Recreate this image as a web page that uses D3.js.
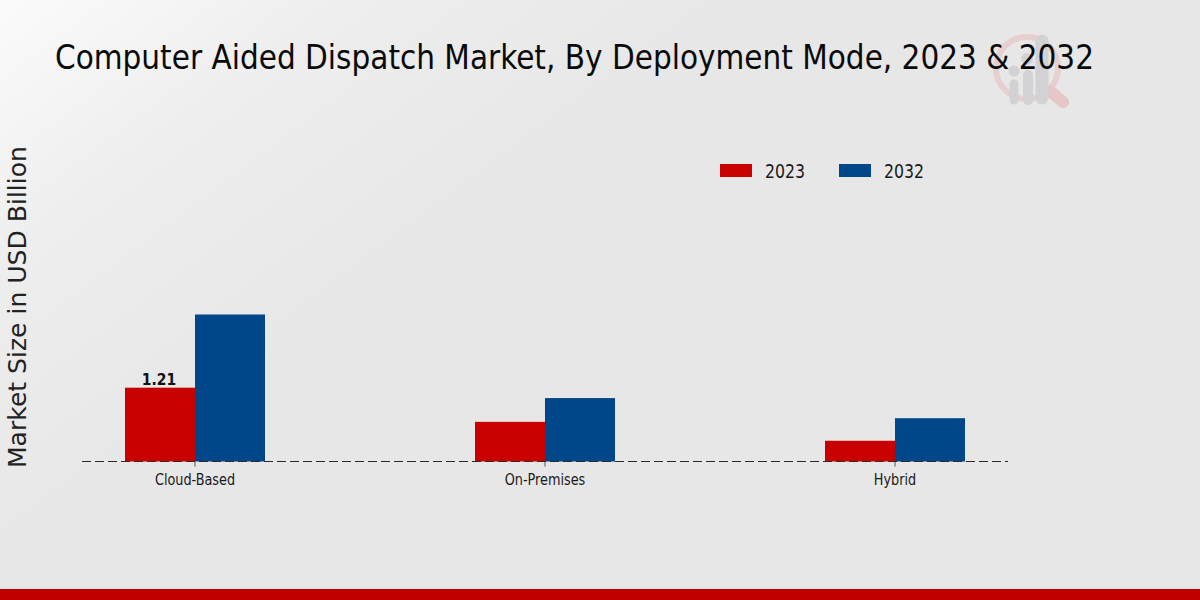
<!DOCTYPE html>
<html><head><meta charset="utf-8">
<script src="https://cdn.jsdelivr.net/npm/d3@7"></script>
<style>html,body{margin:0;padding:0;background:#e8e8e8;overflow:hidden}svg{display:block}</style>
</head><body><svg id="c" width="1200" height="600"></svg>
<script>
const categories = ["Cloud-Based","On-Premises","Hybrid"];
const seriesNames = ["2023","2032"];
const values2023 = [1.21,0.65,0.34];
const values2032 = [2.41,1.04,0.71];
const valueLabels2023 = ["1.21",null,null];
const seriesColors = ["#c80000","#00478a"];
const titleText = "Computer Aided Dispatch Market, By Deployment Mode, 2023 & 2032";
const yAxisTitle = "Market Size in USD Billion";

const svg = d3.select("#c");
const defs = svg.append("defs");
const bg = defs.append("linearGradient").attr("id","bg").attr("gradientUnits","userSpaceOnUse")
  .attr("x1",0).attr("y1",0).attr("x2",420).attr("y2",560);
bg.append("stop").attr("offset","0").attr("stop-color","#fbfbfb");
bg.append("stop").attr("offset","0.3").attr("stop-color","#eeeeee");
bg.append("stop").attr("offset","0.65").attr("stop-color","#e7e7e7");
bg.append("stop").attr("offset","1").attr("stop-color","#e7e7e7");
svg.append("rect").attr("width",1200).attr("height",600).attr("fill","url(#bg)");
defs.append("filter").attr("id","soft").append("feGaussianBlur").attr("stdDeviation",0.6);

// watermark
const wm = svg.append("g").attr("filter","url(#soft)");
wm.append("circle").attr("cx",1027).attr("cy",68).attr("r",31).attr("fill","none").attr("stroke","#e6cfcf").attr("stroke-width",6);
wm.append("line").attr("x1",1050).attr("y1",91).attr("x2",1063).attr("y2",102).attr("stroke","#e6c6c6").attr("stroke-width",12).attr("stroke-linecap","round");
const wmBars=[[1014,84,100,9],[1028,75,100,10],[1042,41,98,13]];
wmBars.forEach(b=>wm.append("line").attr("x1",b[0]).attr("x2",b[0]).attr("y1",b[1]).attr("y2",b[2]).attr("stroke","#d2d2d5").attr("stroke-width",b[3]).attr("stroke-linecap","round"));
wm.append("circle").attr("cx",1014).attr("cy",71).attr("r",5.5).attr("fill","#d2d2d5");
wm.append("circle").attr("cx",1027).attr("cy",59).attr("r",6).attr("fill","#d2d2d5");

// chart
const x = d3.scaleBand().domain(categories).range([20,1070]).padding(0);
const y = d3.scaleLinear().domain([0,2.41]).range([461.5,314.5]);
const barW = 70;
const g = svg.append("g");
const rows = [values2023,values2032];
rows.forEach((vals,si)=>{
  g.selectAll(null).data(vals).enter().append("rect")
    .attr("x",(d,i)=>x(categories[i])+x.bandwidth()/2+(si-1)*barW)
    .attr("y",d=>y(d)).attr("width",barW).attr("height",d=>y(0)-y(d))
    .attr("fill",seriesColors[si]);
});
valueLabels2023.forEach((t,i)=>{ if(t) g.append("text")
  .attr("x",x(categories[i])+x.bandwidth()/2-barW/2-1).attr("y",y(values2023[i])-2.5)
  .attr("text-anchor","middle").attr("font-family","DejaVu Sans Condensed").attr("font-weight","bold")
  .attr("font-size",15.5).attr("fill","#111").text(t);});

// baseline + ticks
const axis = svg.append("g").attr("transform","translate(0,461.5)")
  .call(d3.axisBottom(x).tickSize(5).tickPadding(7));
axis.select(".domain").remove();
axis.selectAll(".tick line").attr("stroke","#555");
axis.selectAll(".tick text").attr("font-family","DejaVu Sans Condensed").attr("font-size",15.5).attr("fill","#1a1a1a")
  .attr("textLength",function(){return this.getComputedTextLength()*0.92;}).attr("lengthAdjust","spacingAndGlyphs");
svg.append("line").attr("x1",82).attr("x2",1008).attr("y1",461.5).attr("y2",461.5)
  .attr("stroke","#2a2a2a").attr("stroke-width",1.2).attr("stroke-dasharray","9,4");

// text
svg.append("text").attr("x",55).attr("y",69).attr("font-family","DejaVu Sans Condensed")
  .attr("font-size",33).attr("fill","#0a0a0a").attr("textLength",1039).attr("lengthAdjust","spacingAndGlyphs").text(titleText);
svg.append("text").attr("transform","translate(25.5,307) rotate(-90)").attr("text-anchor","middle")
  .attr("font-family","DejaVu Sans").attr("font-size",24.5).attr("fill","#222")
  .attr("textLength",322).attr("lengthAdjust","spacingAndGlyphs").text(yAxisTitle);

// legend
const lx=[720,839];
seriesNames.forEach((n,i)=>{
  svg.append("rect").attr("x",lx[i]).attr("y",164).attr("width",32).attr("height",13).attr("fill",seriesColors[i]);
  svg.append("text").attr("x",lx[i]+45).attr("y",177.5).attr("font-family","DejaVu Sans Condensed")
    .attr("font-size",20).attr("fill","#1a1a1a").attr("textLength",40).attr("lengthAdjust","spacingAndGlyphs").text(n);
});

// bottom band
svg.append("rect").attr("x",0).attr("y",589).attr("width",1200).attr("height",11).attr("fill","#c00000");
</script></body></html>
